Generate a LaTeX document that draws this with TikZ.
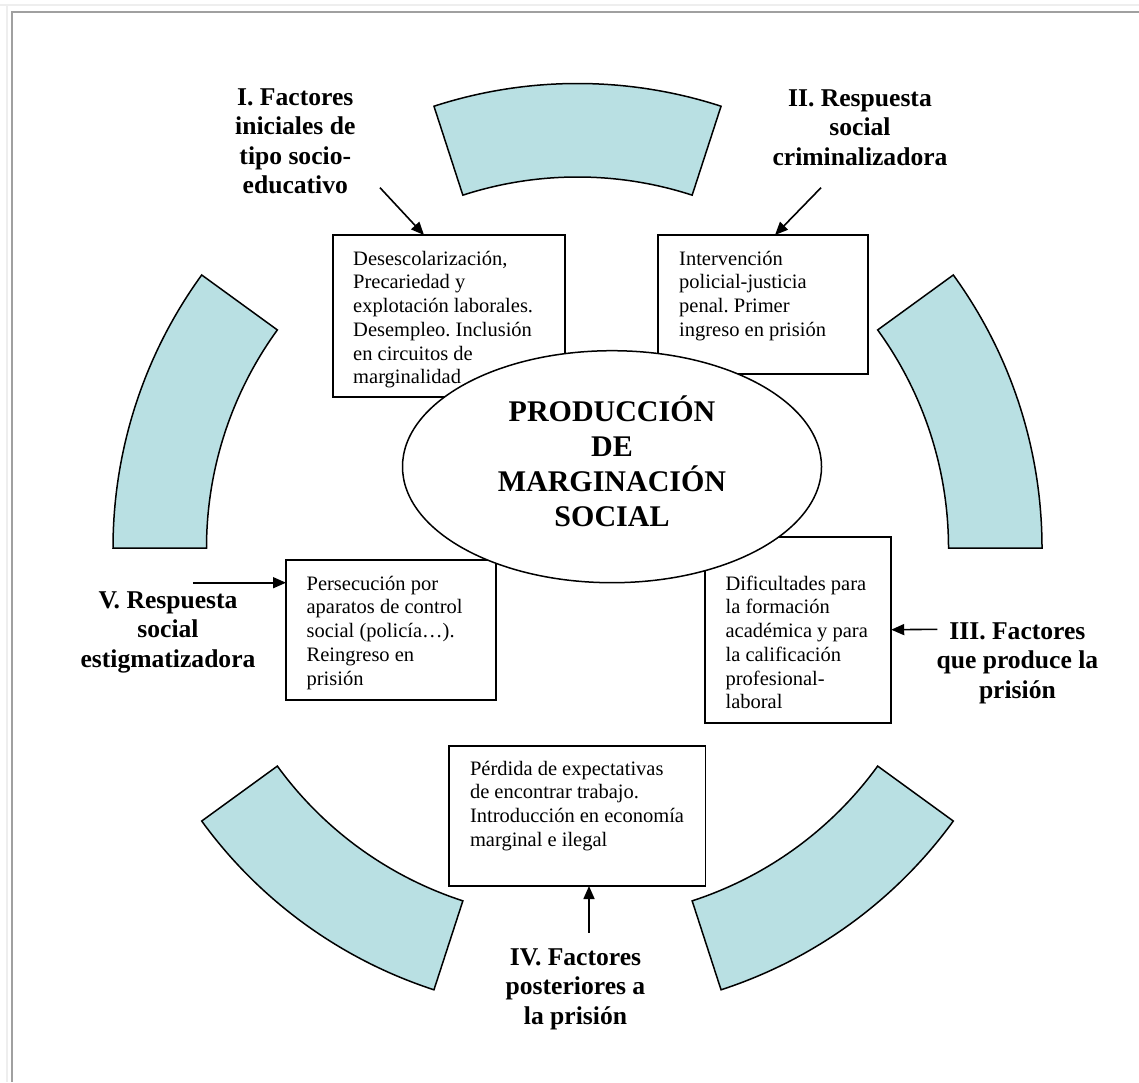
\documentclass[tikz,border=0pt]{standalone}
\usepackage{fontspec}
\setmainfont{Liberation Serif}
\usetikzlibrary{arrows.meta,shapes.geometric,calc}
\frenchspacing
\definecolor{segfill}{RGB}{185,224,227}
\definecolor{framegray}{RGB}{160,160,160}
\definecolor{framelight}{RGB}{238,238,238}
\newcommand\ringseg[2]{\draw[seg] ($(C)+(#1:464.5pt)$) arc[start angle=#1,end angle=#2,radius=464.5pt] -- ($(C)+(#2:371pt)$) arc[start angle=#2,end angle=#1,radius=371pt] -- cycle;}
\begin{document}
\begin{tikzpicture}[x=1pt,y=1pt,
 seg/.style={draw=black, line width=1.5pt, fill=segfill, line join=miter},
 boxst/.style={draw=black, line width=1.7pt, fill=white, inner sep=0pt, outer sep=0pt, anchor=north west},
 boxtext/.style={anchor=north west, inner sep=0pt, align=left, font=\frenchspacing\fontsize{20.5}{23.7}\selectfont},
 lbl/.style={anchor=north, inner sep=0pt, align=center, font=\bfseries\fontsize{25.6}{29.5}\selectfont},
 arr/.style={line width=1.6pt, -{Triangle[length=13pt,width=11pt]}},
]
\useasboundingbox (0,0) rectangle (1139,-1082);
% page and frame
\fill[white] (0,0) rectangle (1139,-1082);
\fill[framelight] (0,-3.5) rectangle (1139,-5.5);
\fill[framelight] (6,-5.5) rectangle (7.5,-1082);
\fill[framegray] (11,-11) rectangle (1139,-12.7);
\fill[framegray] (11,-11) rectangle (12.7,-1082);

% ring segments
\coordinate (C) at (577.5,-548);
\ringseg{0}{36}
\ringseg{72}{108}
\ringseg{144}{180}
\ringseg{216}{252}
\ringseg{288}{324}

% boxes
\node[boxst, minimum width=232pt, minimum height=162pt] (b1) at (333,-235) {};
\node[boxst, minimum width=209.4pt, minimum height=139pt] (b2) at (658.3,-235) {};
\node[boxst, minimum width=186.4pt, minimum height=186pt] (b3) at (704.8,-536.7) {};
\node[boxst, minimum width=256.4pt, minimum height=140pt] (b4) at (449.2,-746) {};
\node[boxst, minimum width=210pt, minimum height=140pt] (b5) at (286,-560) {};

\node[boxtext] (t1) at (353,-247) {\rule{0pt}{18pt}Desescolarización,\\Precariedad y\\explotación laborales.\\Desempleo. Inclusión\\en circuitos de\\marginalidad};
\node[boxtext] (t2) at (679,-247) {\rule{0pt}{18pt}Intervención\\policial-justicia\\penal. Primer\\ingreso en prisión};
\node[boxtext] (t3) at (725.4,-572) {\rule{0pt}{18pt}Dificultades para\\la formación\\académica y para\\la calificación\\profesional-\\laboral};
\node[boxtext] (t4) at (469.8,-757) {\rule{0pt}{18pt}Pérdida de expectativas\\de encontrar trabajo.\\Introducción en economía\\marginal e ilegal};
\node[boxtext] (t5) at (306.4,-572) {\rule{0pt}{18pt}Persecución por\\aparatos de control\\social (policía…).\\Reingreso en\\prisión};

% central ellipse
\node[ellipse, draw=black, line width=1.5pt, fill=white, minimum width=419pt, minimum height=232pt, inner sep=0pt, outer sep=0pt] (ell) at (612,-466.7) {};
\node[anchor=north, inner sep=0pt, align=center, font=\bfseries\fontsize{30}{34.8}\selectfont] (etxt) at (612,-392.7) {\rule{0pt}{29pt}PRODUCCIÓN\\DE\\MARGINACIÓN\\SOCIAL};

% labels
\node[lbl] (l1) at (295.3,-83) {\rule{0pt}{22pt}I. Factores\\iniciales de\\tipo socio-\\educativo};
\node[lbl] (l2) at (860,-84) {\rule{0pt}{22pt}II. Respuesta\\social\\criminalizadora};
\node[lbl] (l3) at (1017.4,-617) {\rule{0pt}{22pt}III. Factores\\que produce la\\prisión};
\node[lbl] (l4) at (575.5,-943) {\rule{0pt}{22pt}IV. Factores\\posteriores a\\la prisión};
\node[lbl] (l5) at (168,-586) {\rule{0pt}{22pt}V. Respuesta\\social\\estigmatizadora};

% arrows
\coordinate (s1) at (380,-187.7);
\coordinate (s2) at (821,-187.7);
\coordinate (s3) at (937.4,-629.3);
\coordinate (s4) at (589,-932.7);
\coordinate (s5) at (192.9,-582.7);
\draw[arr] (s1) -- ([xshift=91pt]b1.north west);
\draw[arr] (s2) -- ([xshift=116.7pt]b2.north west);
\draw[arr] (s3) -- (b3.east);
\draw[arr] (s4) -- ([xshift=11.6pt]b4.south);
\draw[arr] (s5) -- ([yshift=-22.7pt]b5.north west);
\end{tikzpicture}
\end{document}
